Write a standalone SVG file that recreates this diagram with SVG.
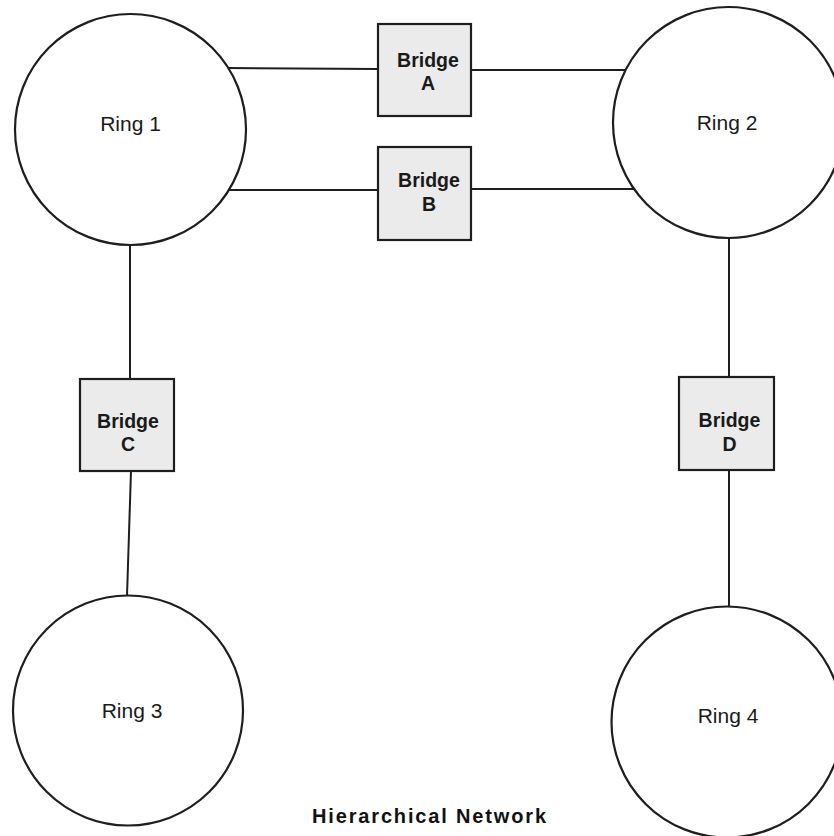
<svg xmlns="http://www.w3.org/2000/svg" width="834" height="836" viewBox="0 0 834 836">
  <style>
    .ring { fill: #ffffff; stroke: #1e1e1e; stroke-width: 2.2; }
    .bridge { fill: #ebebeb; stroke: #1e1e1e; stroke-width: 2.2; }
    .link { stroke: #1e1e1e; stroke-width: 2; fill: none; }
    .rlabel { font-family: "Liberation Sans", Arial, sans-serif; font-size: 21px; fill: #1a1a1a; text-anchor: middle; }
    .blabel { font-family: "Liberation Sans", Arial, sans-serif; font-size: 19.5px; font-weight: bold; fill: #1a1a1a; text-anchor: middle; }
    .title { font-family: "Liberation Sans", Arial, sans-serif; font-size: 20px; font-weight: bold; fill: #111111; text-anchor: middle; }
  </style>
  <rect width="834" height="836" fill="#ffffff"/>

  <g id="connectors">
    <line class="link" x1="228" y1="68" x2="378" y2="69"/>
    <line class="link" x1="471" y1="70" x2="626" y2="70"/>
    <line class="link" x1="229" y1="190" x2="378" y2="190"/>
    <line class="link" x1="471" y1="189" x2="634" y2="189"/>
    <line class="link" x1="130" y1="245" x2="130" y2="379"/>
    <line class="link" x1="131" y1="471" x2="127" y2="596"/>
    <line class="link" x1="729" y1="238" x2="729" y2="377"/>
    <line class="link" x1="729" y1="470" x2="729" y2="607"/>
  </g>

  <g id="ring1">
    <circle class="ring" cx="130.5" cy="129.5" r="115.5"/>
    <text class="rlabel" x="130.5" y="131">Ring 1</text>
  </g>
  <g id="ring2">
    <circle class="ring" cx="728.5" cy="122.5" r="115.5"/>
    <text class="rlabel" x="727" y="130">Ring 2</text>
  </g>
  <g id="ring3">
    <circle class="ring" cx="128" cy="710.5" r="115"/>
    <text class="rlabel" x="132" y="718">Ring 3</text>
  </g>
  <g id="ring4">
    <circle class="ring" cx="727" cy="722" r="115.5"/>
    <text class="rlabel" x="728" y="723">Ring 4</text>
  </g>

  <g id="bridgeA">
    <rect class="bridge" x="378" y="24" width="93" height="92"/>
    <text class="blabel" x="428" y="67">Bridge</text>
    <text class="blabel" x="428" y="90">A</text>
  </g>
  <g id="bridgeB">
    <rect class="bridge" x="378" y="147" width="93" height="93"/>
    <text class="blabel" x="429" y="187">Bridge</text>
    <text class="blabel" x="429" y="211">B</text>
  </g>
  <g id="bridgeC">
    <rect class="bridge" x="80" y="379" width="94" height="92"/>
    <text class="blabel" x="128" y="428">Bridge</text>
    <text class="blabel" x="128" y="451">C</text>
  </g>
  <g id="bridgeD">
    <rect class="bridge" x="679" y="377" width="95" height="93"/>
    <text class="blabel" x="729.5" y="427">Bridge</text>
    <text class="blabel" x="729.5" y="451">D</text>
  </g>

  <text class="title" x="429" y="823" textLength="234" lengthAdjust="spacing">Hierarchical Network</text>
</svg>
